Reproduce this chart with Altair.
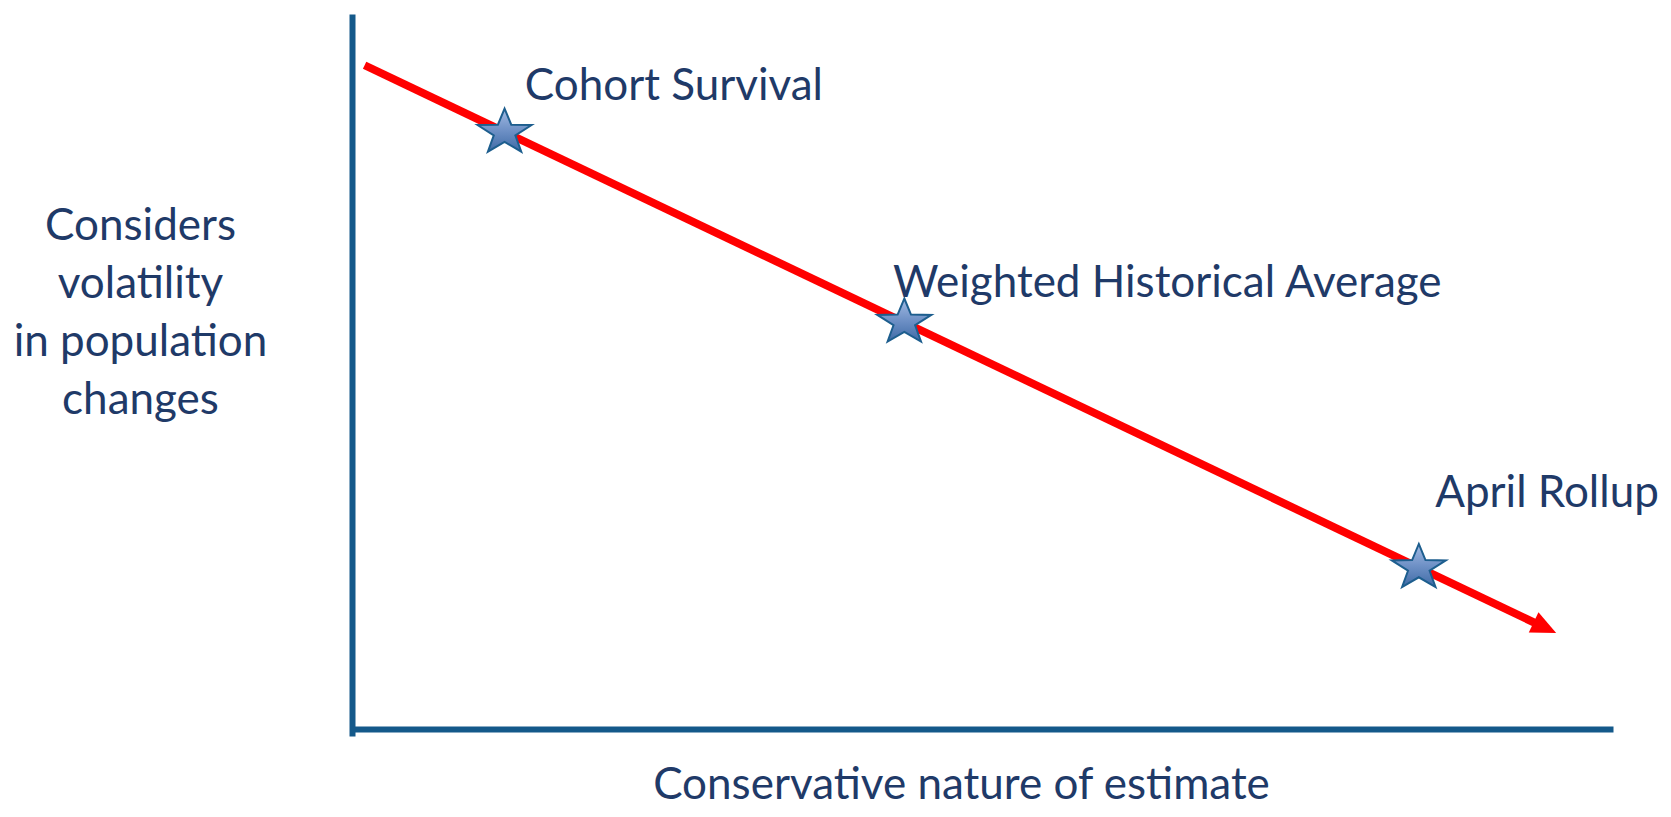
import altair as alt
import pandas as pd

# ---- data (abstract chart units, 0-100 on both axes) ----
line_x = [1.0, 94.6]
line_y = [92.9, 15.0]

arrow_x = [94.6]
arrow_y = [15.0]

star_names = ["Cohort Survival", "Weighted Historical Average", "April Rollup"]
star_x = [12.1, 43.8, 84.6]
star_y = [83.6, 57.3, 23.3]

label_x = [13.7, 42.9, 85.9]
label_y = [88.1, 60.8, 31.7]

x_title = "Conservative nature of estimate"
y_title = ["Considers", "volatility", "in population", "changes"]

# ---- styles ----
TEXT = "#1F3A68"
AXIS = "#14598A"
FONT = "Lato"
FS = 44

line_df = pd.DataFrame({"x": line_x, "y": line_y})
arrow_df = pd.DataFrame({"x": arrow_x, "y": arrow_y})
star_df = pd.DataFrame({"name": star_names, "x": star_x, "y": star_y})
label_df = pd.DataFrame({"name": star_names, "x": label_x, "y": label_y})

xs = alt.Scale(domain=[0, 100], nice=False, zero=False)
ys = alt.Scale(domain=[0, 100], nice=False, zero=False)

x_axis = alt.Axis(
    labels=False, ticks=False, grid=False,
    domainColor=AXIS, domainWidth=6, offset=-7,
    title=x_title, titleFont=FONT, titleFontSize=FS, titleFontWeight="normal",
    titleColor=TEXT, titleX=609, titleY=69, titleAlign="center",
    titleBaseline="alphabetic",
)
y_axis = alt.Axis(
    labels=False, ticks=False, grid=False,
    domainColor=AXIS, domainWidth=6,
    title=y_title, titleFont=FONT, titleFontSize=FS, titleFontWeight="normal",
    titleColor=TEXT, titleAngle=0, titleX=-212, titleY=225, titleAlign="center",
    titleBaseline="alphabetic", titleLineHeight=58,
)

base_x = alt.X("x:Q", scale=xs, axis=x_axis)
base_y = alt.Y("y:Q", scale=ys, axis=y_axis)

line = alt.Chart(line_df).mark_line(
    color="#FF0000", strokeWidth=8, strokeCap="butt"
).encode(x=base_x, y=base_y)

arrow = alt.Chart(arrow_df).mark_point(
    shape="M -1,-0.9 L 1,0 L -1,0.9 Z", filled=True, fill="#FF0000",
    opacity=1, size=625, angle=25.5, strokeWidth=0,
).encode(x=alt.X("x:Q", scale=xs), y=alt.Y("y:Q", scale=ys))

star_path = ("M 0,-0.881 L 0.247,-0.285 L 1,-0.272 L 0.4,0.109 L 0.618,0.712 "
             "L 0,0.352 L -0.618,0.712 L -0.4,0.109 L -1,-0.272 L -0.247,-0.285 Z")

grad = alt.LinearGradient(
    gradient="linear",
    stops=[alt.GradientStop(color="#A3BBE3", offset=0),
           alt.GradientStop(color="#6F91C6", offset=0.5),
           alt.GradientStop(color="#3F6BA6", offset=1)],
    x1=0, x2=0, y1=0, y2=1,
)

stars = alt.Chart(star_df).mark_point(
    shape=star_path, filled=True, fill=grad, opacity=1, size=2916,
    stroke="#1D5E8E", strokeWidth=2,
).encode(x=alt.X("x:Q", scale=xs), y=alt.Y("y:Q", scale=ys))

labels = alt.Chart(label_df).mark_text(
    align="left", baseline="alphabetic", font=FONT, fontSize=FS,
    color=TEXT,
).encode(x=alt.X("x:Q", scale=xs), y=alt.Y("y:Q", scale=ys), text="name:N")

chart = alt.layer(line, arrow, stars, labels).properties(
    width=1261, height=722,
    padding={"left": 344, "top": 6, "right": 50, "bottom": 73},
    autosize=alt.AutoSizeParams(type="none"),
    background="white",
).configure_view(stroke="transparent", strokeWidth=0)

chart.save("out.html", embed_options={"renderer": "svg", "actions": False})
